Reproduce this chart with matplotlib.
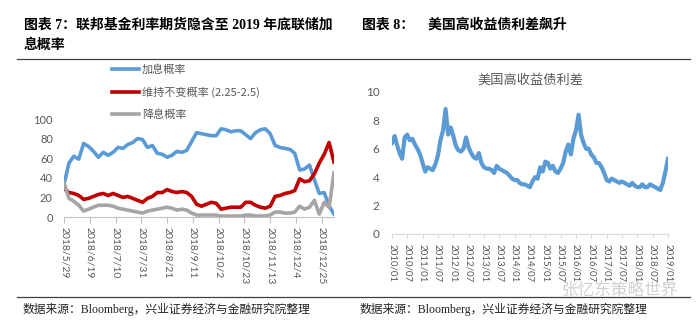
import pandas as pd
import matplotlib.pyplot as plt
import matplotlib.dates as mdates
from matplotlib.lines import Line2D

plt.rcParams['font.family'] = ['Lato', 'Noto Sans CJK SC', 'DejaVu Sans']

CJK_SERIF = ['Liberation Serif', 'Noto Sans CJK SC']
CJK_SANS = ['Noto Sans CJK SC', 'DejaVu Sans']

# --- left panel: fed funds futures implied probabilities (%), every 4 days from 2018/5/29
hike_prob = [33, 55, 62, 59, 75, 72, 67, 61, 66, 63, 66, 71, 70, 74, 76, 80,
             79, 71, 73, 65, 64, 61, 63, 67, 66, 68, 77, 86, 85, 84, 83, 83,
             90, 89, 87, 88, 88, 84, 80, 86, 89, 90, 85, 73, 71, 70, 69, 65,
             48, 49, 53, 38, 24, 25, 11, 3]
hold_prob = [29, 25, 24, 22, 18, 19, 21, 23, 24, 22, 24, 22, 20, 21, 19, 17,
             15, 19, 21, 25, 25, 28, 26, 25, 26, 25, 21, 13, 11, 13, 15, 14,
             8, 9, 10, 10, 10, 15, 15, 12, 10, 9, 11, 21, 22, 24, 25, 27,
             39, 36, 37, 44, 55, 64, 76, 56]
cut_prob = [35, 19, 16, 12, 6, 8, 10, 12, 12, 12, 11, 9, 8, 7, 6, 5,
            4, 6, 7, 8, 9, 10, 9, 7, 8, 7, 4, 2, 2, 2, 2, 2,
            1, 1, 1, 1, 1, 2, 2, 1, 1, 1, 2, 5, 5, 4, 4, 5,
            11, 8, 10, 17, 3, 15, 10, 45]
prob_dates = pd.date_range('2018-05-29', periods=len(hike_prob), freq='4D')
prob_ticks = ['2018/5/29', '2018/6/19', '2018/7/10', '2018/7/31', '2018/8/21',
              '2018/9/11', '2018/10/2', '2018/10/23', '2018/11/13', '2018/12/4',
              '2018/12/25']

# --- right panel: US high-yield spread (%), monthly from 2010/01
hy_spread = [6.4, 6.9, 6.3, 5.7, 5.3, 6.8, 7.0, 6.6, 6.7, 6.3, 6.0, 5.6,
             5.0, 4.4, 4.7, 4.6, 4.5, 4.9, 5.5, 6.6, 7.3, 8.8, 7.0, 7.5,
             6.9, 6.2, 5.9, 5.8, 6.0, 6.8, 6.1, 5.7, 5.4, 5.3, 5.7, 5.0,
             4.7, 4.6, 4.6, 4.5, 4.3, 4.8, 4.6, 4.5, 4.4, 4.3, 4.1, 3.9,
             3.8, 3.8, 3.6, 3.5, 3.5, 3.4, 3.3, 3.7, 4.0, 3.9, 4.7, 4.4,
             5.1, 5.0, 4.6, 4.8, 4.4, 4.3, 4.6, 5.0, 5.8, 6.3, 5.6, 6.7,
             7.3, 8.4, 7.0, 6.4, 6.0, 6.0, 5.6, 5.4, 5.0, 5.0, 4.7, 4.3,
             3.8, 3.7, 3.9, 3.8, 3.7, 3.6, 3.7, 3.6, 3.5, 3.4, 3.6, 3.4,
             3.3, 3.3, 3.5, 3.3, 3.3, 3.5, 3.4, 3.3, 3.2, 3.1, 3.6, 4.4,
             5.3]
hy_dates = pd.date_range('2010-01-01', periods=len(hy_spread), freq='MS')

BLUE = '#5B9BD5'
RED = '#C00000'
GRAY = '#A5A5A5'
TXT = '#595959'

fig = plt.figure(figsize=(7, 3.33), dpi=100)
W, H = 700, 333


def fx(px):
    return px / W


def fy(py):
    return 1 - py / H


# headers and rules
fig.text(fx(24), fy(25), '图表 7：联邦基金利率期货隐含至 2019 年底联储加', family=CJK_SERIF,
         fontsize=10, fontweight='bold', va='center')
fig.text(fx(24), fy(45), '息概率', family=CJK_SERIF, fontsize=10,
         fontweight='bold', va='center')
fig.text(fx(362), fy(25), '图表 8：\u3000美国高收益债利差飙升', family=CJK_SERIF,
         fontsize=10, fontweight='bold', va='center')
for y in (59, 297):
    fig.add_artist(Line2D([fx(17), fx(690)], [fy(y), fy(y)], color='#404040', lw=0.9))
src = '数据来源：Bloomberg，兴业证券经济与金融研究院整理'
fig.text(fx(23), fy(309), src, family=CJK_SERIF, fontsize=8.5, va='center', color='#222222')
fig.text(fx(360), fy(309), src, family=CJK_SERIF, fontsize=8.5, va='center', color='#222222')
fig.text(fx(562), fy(290), '张忆东策略世界', family=CJK_SANS, fontsize=12,
         va='center', color='#9a9a9a', alpha=0.45)

# left chart
ax1 = fig.add_axes([fx(64), fy(217), fx(334 - 64), (217 - 119) / H])
ax1.plot(prob_dates, hike_prob, color=BLUE, lw=2.6, label='加息概率')
ax1.plot(prob_dates, hold_prob, color=RED, lw=2.6, label='维持不变概率 (2.25-2.5)')
ax1.plot(prob_dates, cut_prob, color=GRAY, lw=2.6, label='降息概率')
ax1.set_ylim(0, 100)
ax1.set_yticks(range(0, 101, 20))
ax1.set_xlim(prob_dates[0], prob_dates[-1])
tick_pos = pd.to_datetime(prob_ticks, format='%Y/%m/%d')
ax1.set_xticks(tick_pos)
ax1.set_xticklabels(prob_ticks, rotation=-90, fontsize=7.5, color=TXT)
ax1.tick_params(axis='y', length=0, pad=8, labelsize=8, labelcolor=TXT)
ax1.tick_params(axis='x', length=4, color='#BFBFBF', pad=3)
for s in ('top', 'right', 'left'):
    ax1.spines[s].set_visible(False)
ax1.spines['bottom'].set_color('#BFBFBF')
ax1.legend(loc='upper left', bbox_to_anchor=(fx(112), fy(64)), bbox_transform=fig.transFigure,
           frameon=False, borderpad=0, borderaxespad=0, handlelength=2.4,
           handletextpad=0.3, labelspacing=1.05, prop={'family': CJK_SANS, 'size': 8},
           labelcolor=TXT)

# right chart
ax2 = fig.add_axes([fx(392), fy(234), fx(668 - 392), (234 - 92) / H])
ax2.plot(hy_dates, hy_spread, color=BLUE, lw=3.0)
ax2.set_ylim(0, 10)
ax2.set_yticks(range(0, 11, 2))
ax2.set_xlim(pd.Timestamp('2010-01-01'), pd.Timestamp('2019-01-01'))
half_years = pd.date_range('2010-01-01', '2019-01-01', freq='6MS')
ax2.set_xticks(half_years)
ax2.xaxis.set_major_formatter(mdates.DateFormatter('%Y/%m'))
plt.setp(ax2.get_xticklabels(), rotation=-90, fontsize=7, color=TXT)
ax2.tick_params(axis='y', length=0, pad=9, labelsize=8.5, labelcolor=TXT)
ax2.tick_params(axis='x', length=3, color='#D9D9D9', pad=4)
for s in ('top', 'right', 'left'):
    ax2.spines[s].set_visible(False)
ax2.spines['bottom'].set_color('#D9D9D9')
ax2.set_title('美国高收益债利差', family=CJK_SANS, fontsize=9.5, color=TXT, pad=6)

fig.savefig('out.png', dpi=100)
